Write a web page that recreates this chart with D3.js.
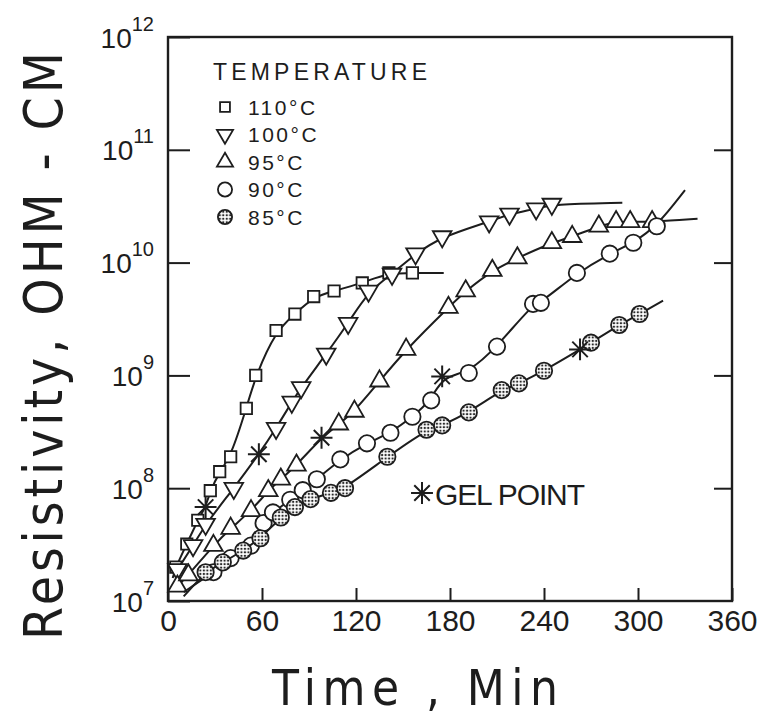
<!DOCTYPE html>
<html>
<head>
<meta charset="utf-8">
<script src="https://cdn.jsdelivr.net/npm/d3@7"></script>
<style>
  body { margin: 0; background: #fff; }
  svg text { fill: #1d1d1d; }
</style>
</head>
<body>
<div id="graph"></div>
<script>
// curing data
const temps = [ "110°C", "100°C", "95°C", "90°C", "85°C" ];

const time110 = [ 5, 12, 19, 27, 33, 40, 50, 56, 69, 81, 93, 106, 124, 141, 156 ];
const res110  = [ 2.0e7, 3.2e7, 5.2e7, 9.5e7, 1.4e8, 1.9e8, 5.1e8, 1.0e9, 2.5e9, 3.5e9, 5.0e9, 5.6e9, 6.6e9, 8.1e9, 8.1e9 ];

const time100 = [ 6, 16, 24, 42, 69, 79, 85, 101, 115, 128, 143, 158, 175, 205, 218, 235, 245 ];
const res100  = [ 1.9e7, 3.1e7, 4.8e7, 1.0e8, 3.4e8, 5.8e8, 7.8e8, 1.55e9, 2.9e9, 5.6e9, 7.9e9, 1.2e10, 1.7e10, 2.3e10, 2.7e10, 3.0e10, 3.3e10 ];

const time95 = [ 6, 13, 29, 40, 53, 64, 72, 82, 109, 119, 135, 152, 179, 190, 207, 223, 245, 258, 275, 286, 295, 309 ];
const res95  = [ 1.35e7, 1.7e7, 3.1e7, 4.4e7, 6.3e7, 9.5e7, 1.2e8, 1.6e8, 3.7e8, 4.8e8, 8.9e8, 1.7e9, 4.0e9, 5.6e9, 8.5e9, 1.1e10, 1.5e10, 1.7e10, 2.1e10, 2.3e10, 2.3e10, 2.3e10 ];

const time90 = [ 29, 40, 53, 61, 67, 78, 86, 95, 110, 127, 142, 156, 168, 192, 210, 233, 238, 261, 282, 297, 312 ];
const res90  = [ 1.8e7, 2.4e7, 3.1e7, 4.9e7, 6.1e7, 7.9e7, 9.6e7, 1.2e8, 1.8e8, 2.5e8, 3.1e8, 4.3e8, 6.0e8, 1.05e9, 1.8e9, 4.3e9, 4.4e9, 8.1e9, 1.2e10, 1.5e10, 2.1e10 ];

const time85 = [ 24, 35, 48, 59, 72, 81, 91, 104, 113, 140, 165, 175, 192, 213, 224, 240, 270, 288, 301 ];
const res85  = [ 1.8e7, 2.2e7, 2.8e7, 3.6e7, 5.5e7, 6.8e7, 8.0e7, 9.1e7, 1.0e8, 1.9e8, 3.3e8, 3.6e8, 4.7e8, 7.4e8, 8.5e8, 1.1e9, 1.95e9, 2.8e9, 3.5e9 ];

// gel points, one per temperature
const gelTime = [ 24, 58, 98, 175, 263 ];
const gelRes  = [ 6.8e7, 2.0e8, 2.8e8, 9.8e8, 1.7e9 ];

// where each drawn curve starts and stops beyond the markers
const lineStartTime = [ 3, 4, 6, 10, 10 ];
const lineStartRes  = [ 1.6e7, 1.7e7, 1.3e7, 1.2e7, 1.1e7 ];
const lineEndTime   = [ 176, 290, 338, 330, 316 ];
const lineEndRes    = [ 8.1e9, 3.4e10, 2.45e10, 4.4e10, 4.6e9 ];

const xTicks = [ 0, 60, 120, 180, 240, 300, 360 ];
const yTicks = [ 1e7, 1e8, 1e9, 1e10, 1e11, 1e12 ];

let options = {
  width: 770,
  height: 718,
  plot: { left: 168, right: 732, top: 37, bottom: 601 },
  ink: "#1d1d1d",
  font: "'Liberation Sans', Arial, sans-serif",
  narrow: "'DejaVu Sans Condensed', 'Liberation Sans Narrow', 'Liberation Sans', sans-serif"
}

const times = [ time110, time100, time95, time90, time85 ];
const resis = [ res110, res100, res95, res90, res85 ];

// 8 spoke star for the gel point
const asterisk = {
  draw( ctx, size ) {
    let r = Math.sqrt( size ) / 2;
    for ( let i = 0; i < 4; i++ ) {
      let a = i * Math.PI / 4;
      ctx.moveTo( -r * Math.cos( a ), -r * Math.sin( a ) );
      ctx.lineTo( r * Math.cos( a ), r * Math.sin( a ) );
    }
  }
}

const markers = [
  { type: d3.symbolSquare, size: 130, rotate: 0, fill: "#fff" },
  { type: d3.symbolTriangle, size: 150, rotate: 180, fill: "#fff" },
  { type: d3.symbolTriangle, size: 150, rotate: 0, fill: "#fff" },
  { type: d3.symbolCircle, size: 210, rotate: 0, fill: "#fff" },
  { type: d3.symbolCircle, size: 210, rotate: 0, fill: "url(#dots)" }
];

renderGraph();

function renderGraph() {
  let p = options.plot;

  let svg = d3.select( "#graph" )
    .append( "svg" )
    .attr( "width", options.width )
    .attr( "height", options.height );

  let defs = svg.append( "defs" );
  let pat = defs.append( "pattern" )
    .attr( "id", "dots" )
    .attr( "width", 3.5 )
    .attr( "height", 3.5 )
    .attr( "patternUnits", "userSpaceOnUse" );
  pat.append( "rect" ).attr( "width", 3.5 ).attr( "height", 3.5 ).attr( "fill", "#fff" );
  pat.append( "circle" ).attr( "cx", 1.75 ).attr( "cy", 1.75 ).attr( "r", 1.2 ).attr( "fill", "#2a2a2a" );

  let x = d3.scaleLinear().domain( [ 0, 360 ] ).range( [ p.left, p.right ] );
  let y = d3.scaleLog().domain( [ 1e7, 1e12 ] ).range( [ p.bottom, p.top ] );

  // frame
  svg.append( "rect" )
    .attr( "x", p.left )
    .attr( "y", p.top )
    .attr( "width", p.right - p.left )
    .attr( "height", p.bottom - p.top )
    .attr( "fill", "none" )
    .attr( "stroke", options.ink )
    .attr( "stroke-width", 2.4 );

  // bottom axis, ticks pointing inward
  let xAxis = svg.append( "g" )
    .attr( "transform", `translate(0,${p.bottom})` )
    .call( d3.axisBottom( x ).tickValues( xTicks ).tickSizeInner( -13 ).tickSizeOuter( 0 ).tickPadding( 9 ) );
  xAxis.select( ".domain" ).remove();
  xAxis.selectAll( "line" ).attr( "stroke", options.ink ).attr( "stroke-width", 2 );
  xAxis.selectAll( "text" )
    .attr( "font-family", options.font )
    .attr( "font-size", 30 )
    .attr( "fill", options.ink );

  // left axis, labels written as powers of ten
  let yAxis = svg.append( "g" )
    .attr( "transform", `translate(${p.left},0)` )
    .call( d3.axisLeft( y ).tickValues( yTicks ).tickSizeInner( -22 ).tickSizeOuter( 0 ).tickFormat( "" ) );
  yAxis.select( ".domain" ).remove();
  yAxis.selectAll( "line" ).attr( "stroke", options.ink ).attr( "stroke-width", 2 );
  yAxis.selectAll( ".tick text" ).remove();
  let lab = yAxis.selectAll( ".tick" )
    .append( "text" )
    .attr( "x", -14 )
    .attr( "y", 10 )
    .attr( "text-anchor", "end" )
    .attr( "font-family", options.font )
    .attr( "font-size", 28 )
    .attr( "fill", options.ink );
  lab.append( "tspan" ).text( "10" );
  lab.append( "tspan" )
    .attr( "dy", -17 )
    .attr( "font-size", 20 )
    .text( d => Math.round( Math.log10( d ) ) );

  // right axis, bare inward ticks
  let rAxis = svg.append( "g" )
    .attr( "transform", `translate(${p.right},0)` )
    .call( d3.axisRight( y ).tickValues( yTicks.slice( 1, 5 ) ).tickSizeInner( -18 ).tickSizeOuter( 0 ).tickFormat( "" ) );
  rAxis.select( ".domain" ).remove();
  rAxis.selectAll( "line" ).attr( "stroke", options.ink ).attr( "stroke-width", 2 );

  // axis titles
  svg.append( "text" )
    .text( "Time , Min" )
    .attr( "x", 272 )
    .attr( "y", 705 )
    .attr( "textLength", 286 )
    .attr( "lengthAdjust", "spacing" )
    .attr( "font-family", options.narrow )
    .attr( "font-size", 49 );

  svg.append( "text" )
    .text( "Resistivity, OHM - CM" )
    .attr( "transform", "translate(62,640) rotate(-90)" )
    .attr( "textLength", 588 )
    .attr( "lengthAdjust", "spacing" )
    .attr( "font-family", options.narrow )
    .attr( "font-size", 53 );

  // curves
  let line = d3.line()
    .x( d => x( d[0] ) )
    .y( d => y( d[1] ) )
    .curve( d3.curveBasis );

  temps.forEach( ( name, i ) => {
    let pts = times[i].map( ( t, j ) => [ t, resis[i][j] ] );
    let nodes = pts.concat( [ [ gelTime[i], gelRes[i] ] ] ).sort( ( a, b ) => a[0] - b[0] );
    nodes.unshift( [ lineStartTime[i], lineStartRes[i] ] );
    nodes.push( [ lineEndTime[i], lineEndRes[i] ] );

    svg.append( "path" )
      .datum( nodes )
      .attr( "d", line )
      .attr( "fill", "none" )
      .attr( "stroke", options.ink )
      .attr( "stroke-width", 2 );

    let m = markers[i];
    svg.append( "g" )
      .selectAll( "path" )
      .data( pts )
      .enter()
      .append( "path" )
      .attr( "d", d3.symbol().type( m.type ).size( m.size ) )
      .attr( "transform", d => `translate(${x( d[0] )},${y( d[1] )}) rotate(${m.rotate})` )
      .attr( "fill", m.fill )
      .attr( "stroke", options.ink )
      .attr( "stroke-width", 1.8 );
  });

  // gel points
  svg.append( "g" )
    .selectAll( "path" )
    .data( gelTime )
    .enter()
    .append( "path" )
    .attr( "d", d3.symbol().type( asterisk ).size( 480 ) )
    .attr( "transform", ( d, i ) => `translate(${x( d )},${y( gelRes[i] )})` )
    .attr( "fill", "none" )
    .attr( "stroke", options.ink )
    .attr( "stroke-width", 2 );

  // temperature legend
  let legend = svg.append( "g" ).attr( "id", "legend" );
  legend.append( "text" )
    .text( "TEMPERATURE" )
    .attr( "x", 213 )
    .attr( "y", 80 )
    .attr( "textLength", 214 )
    .attr( "font-family", options.font )
    .attr( "font-size", 23 );

  let rows = legend.selectAll( ".row" )
    .data( temps )
    .enter()
    .append( "g" )
    .attr( "class", "row" )
    .attr( "transform", ( d, i ) => `translate(225,${107 + i * 27.5})` );

  rows.append( "path" )
    .attr( "d", ( d, i ) => d3.symbol().type( markers[i].type ).size( markers[i].size * 0.75 )() )
    .attr( "transform", ( d, i ) => `rotate(${markers[i].rotate})` )
    .attr( "fill", ( d, i ) => markers[i].fill )
    .attr( "stroke", options.ink )
    .attr( "stroke-width", 1.8 );

  rows.append( "text" )
    .text( d => d )
    .attr( "x", 23 )
    .attr( "y", 7.5 )
    .attr( "letter-spacing", 2.5 )
    .attr( "font-family", options.font )
    .attr( "font-size", 21 );

  // gel point key
  svg.append( "path" )
    .attr( "d", d3.symbol().type( asterisk ).size( 480 ) )
    .attr( "transform", "translate(422,493)" )
    .attr( "fill", "none" )
    .attr( "stroke", options.ink )
    .attr( "stroke-width", 2 );

  svg.append( "text" )
    .text( "GEL POINT" )
    .attr( "x", 435 )
    .attr( "y", 505 )
    .attr( "textLength", 150 )
    .attr( "font-family", options.font )
    .attr( "font-size", 30 );
}
</script>
</body>
</html>
